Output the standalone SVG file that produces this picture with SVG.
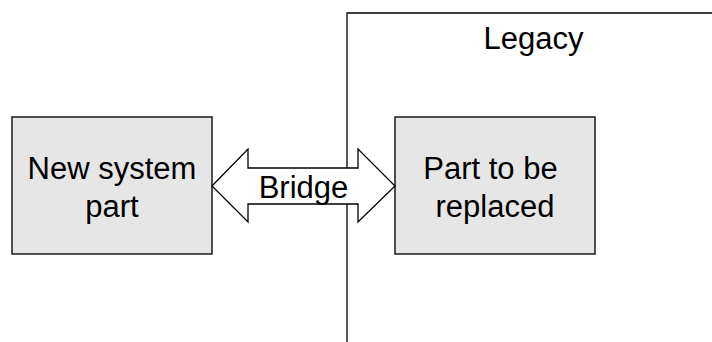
<svg xmlns="http://www.w3.org/2000/svg" width="712" height="342" viewBox="0 0 712 342">
<style>
.box{fill:#e6e6e6;stroke:#1a1a1a;stroke-width:1.5}
.t{font-family:"Liberation Sans",Arial,sans-serif;font-size:31px;fill:#000}
.ln{fill:none;stroke:#000;stroke-width:1.3}
</style>
<rect width="712" height="342" fill="#fff"/>
<g id="legacy">
<path class="ln" d="M347,342 V13 H712"/>
<text class="t" x="533.5" y="49" text-anchor="middle">Legacy</text>
</g>
<g id="new-part">
<rect class="box" x="12" y="117" width="200" height="137"/>
<text class="t" x="112" y="179" text-anchor="middle">New system</text>
<text class="t" x="112" y="217" text-anchor="middle">part</text>
</g>
<g id="old-part">
<rect class="box" x="395" y="117" width="200" height="137"/>
<text class="t" x="490.5" y="179" text-anchor="middle">Part to be</text>
<text class="t" x="495" y="217" text-anchor="middle">replaced</text>
</g>
<g id="connectors">
<polygon points="212,186 248,149 248,168 358,168 358,149 395,186 358,222 358,204 248,204 248,222" fill="#fff" stroke="#000" stroke-width="1.3" stroke-linejoin="miter"/>
<text class="t" x="303.5" y="197.5" text-anchor="middle">Bridge</text>
</g>
</svg>
